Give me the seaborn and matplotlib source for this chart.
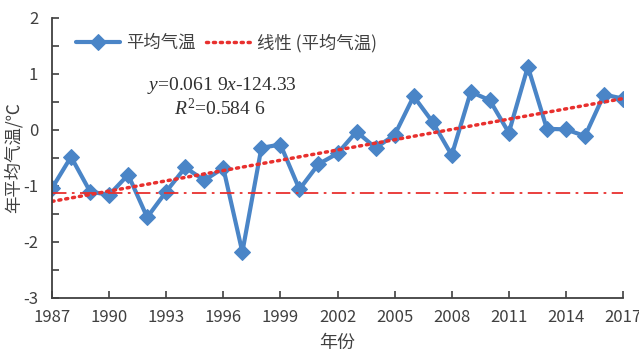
import matplotlib.pyplot as plt
import seaborn as sns
import pandas as pd

# annual mean temperature anomaly
years = list(range(1987, 2018))
temps = [-1.04, -0.48, -1.10, -1.16, -0.80, -1.56, -1.10, -0.67, -0.90, -0.68,
         -2.18, -0.32, -0.26, -1.06, -0.61, -0.42, -0.03, -0.32, -0.09, 0.60,
         0.14, -0.45, 0.68, 0.53, -0.05, 1.13, 0.02, 0.01, -0.11, 0.63, 0.56]
baseline = -1.13
xticks = list(range(1987, 2018, 3))

df = pd.DataFrame({'year': years, 'temp': temps})

sns.set_style('white')
plt.rcParams['font.family'] = ['Liberation Sans Narrow', 'Noto Sans CJK SC', 'DejaVu Sans']
plt.rcParams['axes.unicode_minus'] = False
plt.rcParams['mathtext.fontset'] = 'custom'
plt.rcParams['mathtext.rm'] = 'Liberation Serif'
plt.rcParams['mathtext.it'] = 'Liberation Serif:italic'

fig = plt.figure(figsize=(6.39, 3.51), dpi=100)
ax = fig.add_subplot(111)
fig.subplots_adjust(left=0.0814, right=0.975, bottom=0.151, top=0.949)

blue = '#4A85C7'
red = '#E8302E'
grey = '#404040'

sns.lineplot(data=df, x='year', y='temp', ax=ax, color=blue, linewidth=3,
             marker='D', markersize=8, markeredgecolor=blue, label='平均气温')
sns.regplot(data=df, x='year', y='temp', ax=ax, scatter=False, ci=None,
            truncate=True, label='线性 (平均气温)',
            line_kws={'color': red, 'linestyle': (0, (0.6, 1.4)), 'linewidth': 2.5,
                      'dash_capstyle': 'round'})
ax.axhline(baseline, color=red, linestyle=(0, (8, 3, 1.5, 3)), linewidth=1.3)

ax.set_xlim(1987, 2017)
ax.set_ylim(-3, 2)
ax.set_xticks(xticks)
ax.set_xticklabels([str(t) for t in xticks], fontsize=12, color=grey)
ax.set_yticks([v / 2 for v in range(-6, 5)])
ax.set_yticklabels([str(int(v / 2)) if v % 2 == 0 else '' for v in range(-6, 5)],
                   fontsize=12, color=grey)
ax.tick_params(axis='both', direction='in', length=5, width=1.2, color=grey,
               left=True, bottom=True)
ax.tick_params(axis='y', pad=10)
ax.tick_params(axis='x', pad=8)

for s in ['top', 'right']:
    ax.spines[s].set_visible(False)
for s in ['left', 'bottom']:
    ax.spines[s].set_color(grey)
    ax.spines[s].set_linewidth(1.3)

ax.set_xlabel('年份', fontsize=13, color=grey, labelpad=6)
ax.set_ylabel('年平均气温/℃', fontsize=12.5, color=grey, labelpad=0)

ax.legend(loc='upper left', bbox_to_anchor=(0.015, 1.0), ncol=2, frameon=False,
          fontsize=12.5, handlelength=2.5, columnspacing=0.6, handletextpad=0.4,
          labelcolor=grey)

ax.text(1995.9, 0.79, r'$y$=0.061 9$x$-124.33', fontsize=14, family='Liberation Serif',
        ha='center', va='center', color='#303030')
ax.text(1995.8, 0.39, r'$R^2$=0.584 6', fontsize=14, family='Liberation Serif',
        ha='center', va='center', color='#303030')

fig.savefig('out.png', dpi=100)
